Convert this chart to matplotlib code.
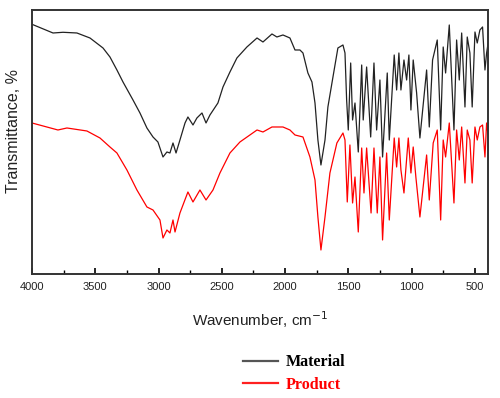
import matplotlib
matplotlib.use("Agg")
import matplotlib.pyplot as plt
from matplotlib.lines import Line2D
import numpy as np

# Wavenumbers (cm-1) and transmittance (arbitrary units)
material_wn = [4000, 3834, 3755, 3645, 3542, 3439, 3384, 3329, 3281, 3202, 3147, 3092,
               3044, 3005, 2965, 2934, 2910, 2886, 2862, 2831, 2791, 2768, 2728, 2697,
               2657, 2625, 2594, 2531, 2491, 2436, 2381, 2302, 2222, 2175, 2104, 2065,
               2017, 1962, 1922, 1883, 1859, 1820, 1788, 1764, 1741, 1717, 1685, 1662,
               1622, 1583, 1543, 1527, 1514, 1501, 1482, 1467, 1448, 1422, 1395, 1383,
               1356, 1324, 1298, 1277, 1251, 1230, 1193, 1177, 1138, 1119, 1101, 1085,
               1061, 1040, 1022, 1006, 988, 961, 935, 882, 861, 835, 798, 771, 751, 732,
               703, 666, 645, 624, 605, 579, 561, 540, 522, 500, 482, 461, 440, 421, 408, 397]
material_t = [249.7, 241, 241.7, 241, 236, 226, 217, 204, 192, 174, 161, 146,
              137, 132, 117, 122, 121, 131, 121, 134, 151, 157, 149, 156,
              161, 151, 159, 171, 187, 202, 216, 227, 236, 232, 240, 237,
              239, 236, 224, 224, 221, 201, 192, 171, 134, 109, 134, 167,
              197, 226, 229, 221, 174, 144, 211, 154, 171, 122, 209, 154,
              207, 137, 211, 144, 194, 117, 201, 134, 219, 184, 221, 184,
              214, 194, 219, 164, 214, 181, 136, 204, 147, 214, 234, 144, 227, 201,
              249, 144, 234, 194, 241, 167, 237, 221, 167, 242, 231, 244, 247, 204, 221, 230]

product_wn = [4000, 3795, 3724, 3566, 3463, 3384, 3329, 3250, 3171, 3092, 3044, 2989,
              2965, 2934, 2910, 2886, 2870, 2831, 2768, 2728, 2673, 2625, 2570, 2515,
              2436, 2357, 2222, 2175, 2104, 2017, 1962, 1922, 1859, 1804, 1764, 1741,
              1717, 1685, 1646, 1591, 1543, 1527, 1509, 1488, 1467, 1448, 1422, 1395,
              1377, 1356, 1321, 1298, 1272, 1251, 1230, 1198, 1177, 1138, 1119, 1101,
              1085, 1061, 1027, 1006, 988, 967, 935, 882, 861, 830, 798, 771, 751, 732,
              703, 666, 645, 624, 605, 579, 561, 540, 522, 500, 482, 461, 440, 421, 408, 397]
product_t = [151, 144, 146, 143, 136, 127, 121, 104, 84, 67, 64, 54,
             36, 44, 41, 54, 42, 61, 82, 72, 84, 74, 84, 101,
             121, 132, 144, 142, 147, 147, 144, 139, 137, 117, 94, 57,
             24, 57, 101, 131, 141, 134, 72, 129, 71, 97, 42, 126,
             81, 126, 61, 126, 61, 117, 34, 121, 54, 136, 107, 136,
             104, 81, 136, 101, 127, 97, 57, 119, 74, 131, 144, 54, 134, 117,
             151, 71, 144, 114, 147, 91, 144, 134, 91, 147, 134, 147, 149, 117, 151, 140]

series_names = ["Material", "Product"]
series_colors = ["#222222", "#ff0000"]

x_ticks = [4000, 3500, 3000, 2500, 2000, 1500, 1000, 500]
x_minor = [3750, 3250, 2750, 2250, 1750, 1250, 750]

fig = plt.figure(figsize=(5.0, 3.98), dpi=100)
ax = fig.add_axes([0.064, 0.3116, 0.912, 0.6633])

ax.plot(material_wn, material_t, color=series_colors[0], lw=0.9)
ax.plot(product_wn, product_t, color=series_colors[1], lw=0.9)

ax.set_xlim(4000, 397)
ax.set_ylim(0, 264)
ax.set_yticks([])
ax.set_xticks(x_ticks)
ax.set_xticklabels([str(t) for t in x_ticks])
ax.set_xticks(x_minor, minor=True)
ax.tick_params(axis='x', which='major', direction='in', length=4, width=1.2,
               labelsize=8, labelcolor='#222222', pad=6, top=False)
ax.tick_params(axis='x', which='minor', direction='in', length=3, width=1.0, top=False)
for s in ax.spines.values():
    s.set_linewidth(1.4)
    s.set_color('#333333')

font = "Liberation Sans"
for lab in ax.get_xticklabels():
    lab.set_fontfamily(font)
ax.set_xlabel("Wavenumber, cm$^{-1}$", fontsize=11, fontfamily=font, color='#222222', labelpad=12)
ax.set_ylabel("Transmittance, %", fontsize=11.5, fontfamily=font, color='#222222')
ax.yaxis.set_label_coords(-0.024, 0.54)

handles = [Line2D([], [], color="#555555", lw=1.6), Line2D([], [], color="#ff2020", lw=1.6)]
leg = fig.legend(handles, series_names, loc='upper left', bbox_to_anchor=(0.47, 0.13),
                 frameon=False, prop={'family': 'Liberation Serif', 'weight': 'bold', 'size': 11.5},
                 handlelength=2.2, handletextpad=0.5, labelspacing=0.4, borderpad=0,
                 labelcolor=["#000000", "#ff0000"])

fig.savefig("out.png", dpi=100)
